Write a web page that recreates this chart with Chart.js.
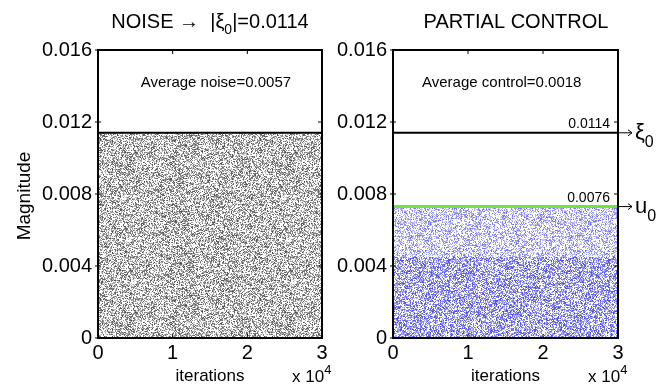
<!DOCTYPE html>
<html>
<head>
<meta charset="utf-8">
<script src="https://cdn.jsdelivr.net/npm/chart.js@4/dist/chart.umd.min.js"></script>
<style>
body { margin: 0; background: #fff; }
#wrap { position: relative; width: 669px; height: 387px; }
canvas { position: absolute; top: 0; }
</style>
</head>
<body>
<div id="wrap">
  <canvas id="noiseChart" style="left:0" width="335" height="387"></canvas>
  <canvas id="controlChart" style="left:335px" width="334" height="387"></canvas>
</div>
<script>
// dati
const iterations = [0, 30000];
const iterTicks = [0, 1, 2, 3];            // x 10^4
const magTicks = [0, 0.004, 0.008, 0.012, 0.016];
const noiseBound = [0.0114, 0.0114];       // |xi0|
const controlBound = [0.0073, 0.0073];     // u0 (linea verde)
const denseBand = [0.0045, 0.0045];        // zona piu' densa del controllo
const avgNoise = 0.0057;
const avgControl = 0.0018;
const xi0Label = '0.0114';
const u0Label = '0.0076';

const FONT = '"Liberation Sans", Arial, sans-serif';

function pts(ys) {
    return iterations.map((x, i) => ({ x: x, y: ys[i] }));
}

// texture a puntini (solo stile di riempimento)
function speckle(r, g, b, density, aMin, aMax, seed) {
    const c = document.createElement('canvas');
    c.width = 160; c.height = 160;
    const cx = c.getContext('2d');
    const img = cx.createImageData(160, 160);
    let s = seed;
    const rnd = () => { s = (s * 1103515245 + 12345) % 2147483648; return s / 2147483648; };
    for (let i = 0; i < img.data.length; i += 4) {
        let a = 0;
        if (rnd() < density) a = aMin + rnd() * (aMax - aMin);
        img.data[i] = Math.round(255 - (255 - r) * a);
        img.data[i + 1] = Math.round(255 - (255 - g) * a);
        img.data[i + 2] = Math.round(255 - (255 - b) * a);
        img.data[i + 3] = 255;
    }
    cx.putImageData(img, 0, 0);
    return cx.createPattern(c, 'repeat');
}

function drawPieces(ctx, pieces, x, y, align) {
    let w = 0;
    pieces.forEach(p => { ctx.font = p.size + 'px ' + FONT; w += ctx.measureText(p.t).width; });
    let cx = align === 'center' ? x - w / 2 : x;
    ctx.textAlign = 'left';
    ctx.textBaseline = 'alphabetic';
    pieces.forEach(p => {
        ctx.font = p.size + 'px ' + FONT;
        ctx.fillText(p.t, cx, y + (p.dy || 0));
        cx += ctx.measureText(p.t).width;
    });
}

function arrowLabel(ctx, x, y, sym) {
    ctx.strokeStyle = '#000';
    ctx.lineWidth = 1;
    ctx.beginPath();
    ctx.moveTo(x, y); ctx.lineTo(x + 14, y);
    ctx.moveTo(x + 10, y - 3); ctx.lineTo(x + 14, y); ctx.lineTo(x + 10, y + 3);
    ctx.stroke();
    drawPieces(ctx, [{ t: sym, size: 22 }, { t: '0', size: 16, dy: 8 }], x + 17, y + 6, 'left');
}

function decoPlugin(cfg) {
    return {
        id: 'deco',
        afterDatasetsDraw(chart) {
            const ctx = chart.ctx;
            const a = chart.chartArea;
            const xs = chart.scales.x, ys = chart.scales.y;
            ctx.save();
            ctx.fillStyle = '#000';
            // cornice e tacche interne
            ctx.strokeStyle = '#000';
            ctx.lineWidth = 2;
            ctx.strokeRect(a.left, a.top, a.right - a.left, a.bottom - a.top);
            ctx.lineWidth = 1;
            ctx.beginPath();
            iterTicks.forEach(t => {
                const px = xs.getPixelForValue(t * 10000);
                ctx.moveTo(px, a.bottom); ctx.lineTo(px, a.bottom - 4);
                ctx.moveTo(px, a.top); ctx.lineTo(px, a.top + 4);
            });
            magTicks.forEach(t => {
                const py = ys.getPixelForValue(t);
                ctx.moveTo(a.left - 3, py); ctx.lineTo(a.left + 3, py);
                ctx.moveTo(a.right, py); ctx.lineTo(a.right - 4, py);
            });
            ctx.stroke();

            // titolo
            drawPieces(ctx, cfg.title, cfg.titleX, 28, 'center');

            // media
            ctx.font = '15px ' + FONT;
            ctx.textAlign = 'center';
            ctx.textBaseline = 'middle';
            ctx.fillText(cfg.avgText, xs.getPixelForValue(cfg.avgX), ys.getPixelForValue(0.0142));

            // assi
            ctx.font = '17px ' + FONT;
            ctx.fillText('iterations', (a.left + a.right) / 2, 376);
            drawPieces(ctx, [{ t: 'x 10', size: 17 }, { t: '4', size: 13, dy: -8 }], a.right - 30, 382, 'left');
            if (cfg.yTitle) {
                ctx.save();
                ctx.translate(25, 196);
                ctx.rotate(-Math.PI / 2);
                ctx.font = '19px ' + FONT;
                ctx.textAlign = 'center';
                ctx.textBaseline = 'middle';
                ctx.fillText(cfg.yTitle, 0, 0);
                ctx.restore();
            }

            // etichette delle soglie
            if (cfg.bounds) {
                cfg.bounds.forEach(b => {
                    const py = ys.getPixelForValue(b.y);
                    ctx.font = '14px ' + FONT;
                    ctx.textAlign = 'right';
                    ctx.textBaseline = 'alphabetic';
                    ctx.fillText(b.label, a.right - 8, py - 5);
                    arrowLabel(ctx, a.right, py, b.sym);
                });
            }
            ctx.restore();
        }
    };
}

function baseOptions(left, rightPad) {
    return {
        responsive: false,
        animation: false,
        devicePixelRatio: 1,
        layout: { padding: { top: 50, right: rightPad, bottom: 0, left: 0 } },
        plugins: { legend: { display: false }, tooltip: { enabled: false }, title: { display: false } },
        elements: { point: { radius: 0 }, line: { tension: 0 } },
        scales: {
            x: {
                type: 'linear', min: 0, max: 30000,
                afterBuildTicks: s => { s.ticks = iterTicks.map(v => ({ value: v * 10000 })); },
                afterFit: s => { s.height = 49; },
                ticks: { callback: v => String(v / 10000), color: '#000', font: { family: FONT, size: 20 }, padding: 3, maxRotation: 0 },
                grid: { display: false, drawTicks: false },
                border: { display: false }
            },
            y: {
                min: 0, max: 0.016,
                afterBuildTicks: s => { s.ticks = magTicks.map(v => ({ value: v })); },
                afterFit: s => { s.width = left; },
                ticks: { callback: v => v === 0 ? '0' : v.toFixed(3), color: '#000', font: { family: FONT, size: 20 }, padding: 6 },
                grid: { display: false, drawTicks: false },
                border: { display: false }
            }
        }
    };
}

// pannello rumore
new Chart(document.getElementById('noiseChart'), {
    type: 'line',
    data: {
        datasets: [{
            data: pts(noiseBound),
            borderColor: '#000',
            borderWidth: 2,
            backgroundColor: speckle(20, 20, 20, 0.55, 0.2, 0.75, 7),
            fill: 'origin'
        }]
    },
    options: baseOptions(98, 13),
    plugins: [decoPlugin({
        title: [{ t: 'NOISE \u2192  |\u03BE', size: 20 }, { t: '0', size: 14, dy: 6 }, { t: '|=0.0114', size: 20 }],
        titleX: 210,
        avgText: 'Average noise=' + avgNoise,
        avgX: 15800,
        yTitle: 'Magnitude'
    })]
});

// pannello controllo parziale
new Chart(document.getElementById('controlChart'), {
    type: 'line',
    data: {
        datasets: [
            {
                data: pts(denseBand),
                borderColor: 'rgba(0,0,0,0)',
                borderWidth: 0,
                backgroundColor: speckle(50, 50, 215, 0.62, 0.3, 0.9, 11),
                fill: 'origin'
            },
            {
                data: pts(controlBound),
                borderColor: '#72e33a',
                borderWidth: 3,
                backgroundColor: speckle(60, 60, 220, 0.5, 0.2, 0.75, 23),
                fill: '-1'
            },
            {
                data: pts(noiseBound),
                borderColor: '#000',
                borderWidth: 2,
                fill: false
            }
        ]
    },
    options: baseOptions(58, 51),
    plugins: [decoPlugin({
        title: [{ t: 'PARTIAL CONTROL', size: 20 }],
        titleX: 181,
        avgText: 'Average control=' + avgControl,
        avgX: 14500,
        bounds: [
            { y: noiseBound[0], label: xi0Label, sym: '\u03BE' },
            { y: controlBound[0], label: u0Label, sym: 'u' }
        ]
    })]
});
</script>
</body>
</html>
